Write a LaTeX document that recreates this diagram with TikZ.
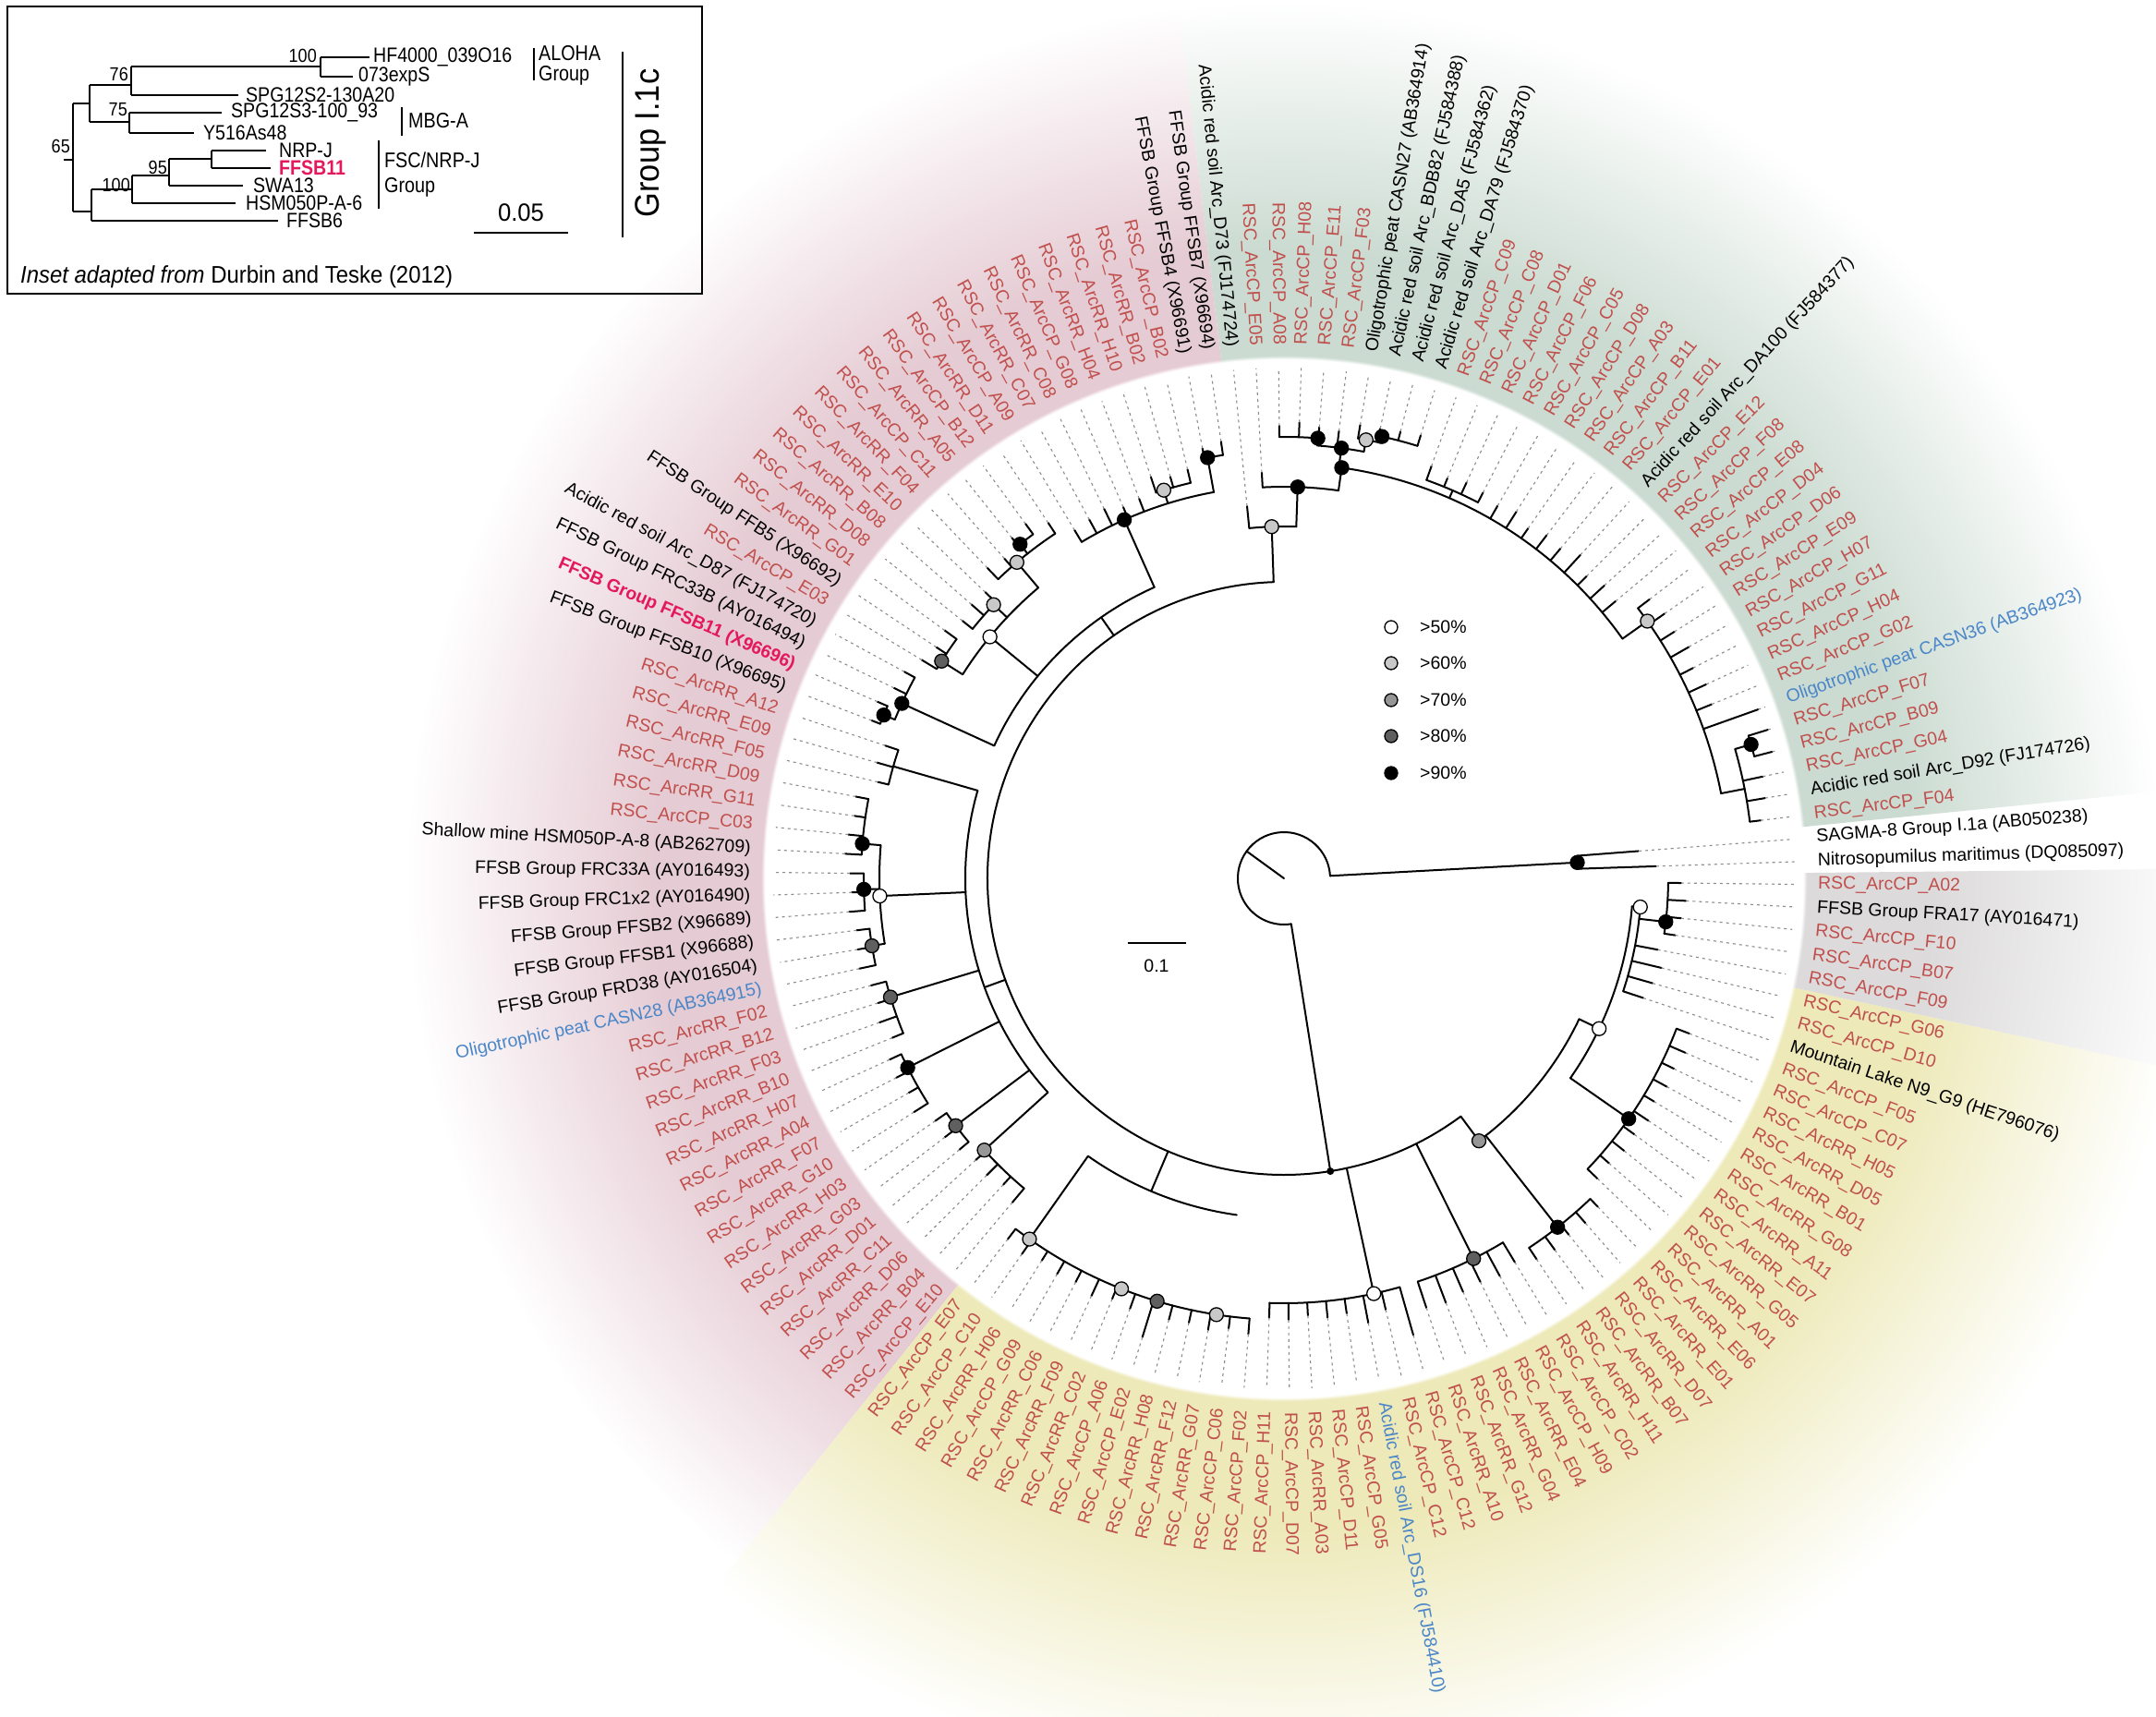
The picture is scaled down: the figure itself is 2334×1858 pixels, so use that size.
\documentclass[tikz,border=0pt]{standalone}
\usepackage{fontspec}
\setmainfont{Liberation Sans}
\definecolor{bandG}{RGB}{203,219,209}
\definecolor{bandP}{RGB}{229,203,211}
\definecolor{bandY}{RGB}{237,233,184}
\definecolor{bandK}{RGB}{220,218,218}
\definecolor{rscc}{RGB}{192,80,77}
\definecolor{bluc}{RGB}{74,134,200}
\definecolor{pnkc}{RGB}{228,24,92}
\definecolor{c60}{RGB}{200,200,200}
\definecolor{c70}{RGB}{150,150,150}
\definecolor{c80}{RGB}{95,95,95}
\pgfdeclareradialshading{shG}{\pgfpoint{0bp}{0bp}}{color(0bp)=(white);color(14.05bp)=(white);color(14.15bp)=(bandG);color(17bp)=(bandG);color(23.75bp)=(white);color(50bp)=(white)}
\pgfdeclareradialshading{shP}{\pgfpoint{0bp}{0bp}}{color(0bp)=(white);color(14.05bp)=(white);color(14.15bp)=(bandP);color(17bp)=(bandP);color(23.75bp)=(white);color(50bp)=(white)}
\pgfdeclareradialshading{shY}{\pgfpoint{0bp}{0bp}}{color(0bp)=(white);color(14.05bp)=(white);color(14.15bp)=(bandY);color(17.5bp)=(bandY);color(24.5bp)=(white);color(50bp)=(white)}
\pgfdeclareradialshading{shK}{\pgfpoint{0bp}{0bp}}{color(0bp)=(white);color(14.05bp)=(white);color(14.15bp)=(bandK);color(17.5bp)=(bandK);color(25bp)=(white);color(50bp)=(white)}
\newcommand\LA[1]{\fpeval{4.4+(#1-1)*2.53521}}
\newcommand\Ar[3]{\draw[br] ({#2}:#1) arc[start angle={#2},end angle={#3},radius=#1pt];}
\newcommand\Rd[3]{\draw[br] ({#1}:#2) -- ({#1}:#3);}
\newcommand\Lf[3]{\draw[br] ({\LA{#1}}:#2) -- ({\LA{#1}}:#3);\draw[dsh] ({\LA{#1}}:#3) -- ({\LA{#1}}:553);}
\newcommand\Dt[3]{\filldraw[fill=#3,draw=black,line width=1.3pt] ({#1}:#2) circle (7.5pt);}
\newcommand\CPl[1]{RSC\_ArcCP\_#1}
\newcommand\RRl[1]{RSC\_ArcRR\_#1}
\newcommand\Lab[3]{%
 \pgfmathsetmacro\myang{4.4+(#1-1)*2.53521}%
 \pgfmathtruncatemacro\mylft{and(\myang>90,\myang<270)}%
 \ifnum\mylft=1\relax
  \node[lbl,#2,anchor=east,rotate=\myang-180] (t#1) at (\myang:578) {#3};%
 \else
  \node[lbl,#2,anchor=west,rotate=\myang] (t#1) at (\myang:578) {#3};%
 \fi}
\begin{document}
\begin{tikzpicture}[x=1pt,y=1pt,
  br/.style={line width=2pt,line cap=round,line join=round},
  dsh/.style={line width=1.1pt,draw=black!45,dash pattern=on 3pt off 4pt},
  lbl/.style={font=\fontsize{19.5}{22}\selectfont,inner sep=0pt},
  rsc/.style={text=rscc},blk/.style={text=black},blu/.style={text=bluc},
  pnk/.style={text=pnkc,font=\fontsize{19.5}{22}\selectfont\bfseries},
  ins/.style={font=\fontsize{19.5}{22}\selectfont,inner sep=0pt},
  tx/.style={font=\fontsize{22.5}{25}\selectfont,inner sep=0pt,xscale=0.87},
  num/.style={font=\fontsize{20.5}{23}\selectfont,inner sep=0pt,xscale=0.88},
  grp/.style={font=\fontsize{23}{26}\selectfont,inner sep=0pt,xscale=0.86},
  ln/.style={line width=2pt}]
\useasboundingbox (-1390,-907) rectangle (944,951);
\fill[white] (-1390,-907) rectangle (944,951);
% coloured bands
\begin{scope}
 \clip (0,0) -- (5.67:1600) arc[start angle=5.67,end angle=96.9,radius=1600pt] -- cycle;
 \shade[shading=shG] (0,0) circle (1000pt);
\end{scope}
\begin{scope}
 \clip (0,0) -- (96.9:1600) arc[start angle=96.9,end angle=231.3,radius=1600pt] -- cycle;
 \shade[shading=shP] (0,0) circle (1000pt);
\end{scope}
\begin{scope}
 \clip (0,0) -- (231.3:1600) arc[start angle=231.3,end angle=347.9,radius=1600pt] -- cycle;
 \shade[shading=shY] (0,0) circle (1000pt);
\end{scope}
\begin{scope}
 \clip (0,0) -- (347.9:1600) arc[start angle=347.9,end angle=360.6,radius=1600pt] -- cycle;
 \shade[shading=shK] (0,0) circle (1000pt);
\end{scope}
% ---------- tree ----------
\Ar{50}{3.1}{279}
\draw[br] (0,0) -- (144:50);
\Rd{3.1}{50}{318}\Ar{318}{1.87}{4.4}\Lf{142}{318}{403}\Lf{1}{318}{385}
\Rd{279}{50}{321}\Ar{321}{92}{306.6}
% green
\Rd{92}{321}{381}\Ar{381}{88}{\LA{37}}\Lf{37}{381}{405}
\Rd{88}{381}{424}\Ar{424}{82}{\LA{36}}\Lf{36}{424}{440}
\Rd{82}{424}{449}\Ar{449}{35.3}{82.4}
\Rd{82.4}{449}{470}\Ar{470}{79.4}{85.6}\Lf{32}{470}{488}
\Rd{85.6}{470}{478}\Ar{478}{\LA{33}}{\LA{35}}\Lf{33}{478}{490}\Lf{34}{478}{494}\Lf{35}{478}{490}
\Rd{79.4}{470}{483}\Ar{483}{77.5}{\LA{31}}\Lf{31}{483}{498}
\Rd{77.5}{483}{490}\Ar{490}{\LA{28}}{\LA{30}}\Lf{28}{490}{502}\Lf{29}{490}{500}\Lf{30}{490}{498}
\Rd{66.5}{449}{458}\Ar{458}{\LA{24}}{\LA{27}}\Lf{24}{458}{470}\Lf{25}{458}{472}\Lf{26}{458}{468}\Lf{27}{458}{474}
\Lf{23}{449}{465}\Lf{22}{449}{470}\Lf{21}{449}{462}\Lf{20}{449}{468}\Lf{19}{449}{466}\Lf{18}{449}{475}\Lf{17}{449}{463}\Lf{16}{449}{470}\Lf{15}{449}{468}
\Rd{35.3}{449}{482}\Ar{482}{11}{\LA{14}}
\Lf{14}{482}{498}\Lf{13}{482}{502}\Lf{12}{482}{500}\Lf{11}{482}{505}\Lf{10}{482}{498}\Lf{9}{482}{503}\Lf{8}{482}{500}\Lf{7}{482}{545}
\Rd{11}{482}{508}\Ar{508}{\LA{2}}{16}
\Rd{16}{508}{526}\Ar{526}{\LA{5}}{\LA{6}}\Lf{5}{526}{546}\Lf{6}{526}{548}
\Lf{4}{508}{530}\Lf{3}{508}{528}\Lf{2}{508}{520}
% pink top
\Rd{125}{321}{345}\Ar{345}{114}{155.4}
\Rd{114}{345}{425}\Ar{425}{100.3}{\LA{47}}
\Rd{100.3}{425}{463}\Ar{463}{\LA{38}}{\LA{39}}\Lf{38}{463}{478}\Lf{39}{463}{474}
\Rd{107.2}{425}{440}\Ar{440}{\LA{40}}{\LA{42}}\Lf{40}{440}{455}\Lf{41}{440}{452}\Lf{42}{440}{458}
\Lf{43}{425}{440}\Lf{44}{425}{438}\Lf{45}{425}{445}\Lf{46}{425}{442}\Lf{47}{425}{440}
\Rd{140.6}{345}{412}\Ar{412}{130.2}{147.6}
\Rd{130.2}{412}{448}\Ar{448}{\LA{48}}{\LA{52}}\Lf{48}{448}{462}
\Rd{128.3}{448}{461}\Ar{461}{\LA{49}}{\LA{50}}\Lf{49}{461}{475}\Lf{50}{461}{472}
\Lf{51}{448}{460}\Lf{52}{448}{465}
\Rd{136.7}{412}{432}\Ar{432}{\LA{53}}{\LA{55}}\Lf{53}{432}{448}\Lf{54}{432}{450}\Lf{55}{432}{446}
\Rd{147.6}{412}{439}\Ar{439}{\LA{56}}{\LA{58}}\Lf{56}{439}{455}\Lf{57}{439}{452}\Lf{58}{439}{458}
\Rd{155.4}{345}{455}\Ar{455}{\LA{59}}{157.8}\Lf{59}{455}{468}\Lf{60}{455}{470}
\Rd{157.8}{455}{468}\Ar{468}{\LA{61}}{\LA{62}}\Lf{61}{468}{480}\Lf{62}{468}{478}
% pink left
\Rd{200}{321}{345}\Ar{345}{164}{222.2}
\Rd{164}{345}{440}\Ar{440}{\LA{63}}{\LA{65}}\Lf{63}{440}{455}\Lf{64}{440}{458}\Lf{65}{440}{452}
\Rd{182.5}{345}{438}\Ar{438}{175.3}{189.3}
\Rd{175.3}{438}{458}\Ar{458}{\LA{66}}{\LA{69}}\Lf{66}{458}{472}\Lf{67}{458}{470}\Lf{68}{458}{474}\Lf{69}{458}{476}
\Rd{181.5}{438}{455}\Ar{455}{\LA{70}}{\LA{72}}\Lf{70}{455}{470}\Lf{71}{455}{468}\Lf{72}{455}{472}
\Rd{189.3}{438}{452}\Ar{452}{\LA{73}}{\LA{75}}\Lf{73}{452}{466}\Lf{74}{452}{468}\Lf{75}{452}{470}
\Rd{196.8}{345}{445}\Ar{445}{\LA{76}}{\LA{79}}\Lf{76}{445}{462}\Lf{77}{445}{460}\Lf{78}{445}{465}\Lf{79}{445}{458}
\Rd{206.7}{345}{456}\Ar{456}{\LA{80}}{\LA{83}}\Lf{80}{456}{470}\Lf{81}{456}{472}\Lf{82}{456}{468}\Lf{83}{456}{474}
\Rd{217}{345}{445}\Ar{445}{\LA{84}}{\LA{86}}\Lf{84}{445}{460}\Lf{85}{445}{462}\Lf{86}{445}{458}
\Rd{222.2}{345}{438}\Ar{438}{222.2}{\LA{90}}\Lf{87}{438}{452}\Lf{88}{438}{455}\Lf{89}{438}{450}\Lf{90}{438}{458}
% bottom
\Rd{247}{321}{368}\Ar{368}{234.8}{262}
\Rd{234.8}{368}{478}\Ar{478}{\LA{91}}{\LA{104}}
\Lf{91}{478}{492}\Lf{92}{478}{496}\Lf{93}{478}{490}\Lf{94}{478}{494}\Lf{95}{478}{492}\Lf{96}{478}{498}\Lf{97}{478}{492}
\Lf{98}{478}{495}\Lf{99}{478}{520}\Lf{100}{478}{494}\Lf{101}{478}{492}\Lf{102}{478}{496}\Lf{103}{478}{491}\Lf{104}{478}{495}
\Rd{282.2}{321}{460}\Ar{460}{\LA{105}}{\LA{112}}
\Lf{105}{460}{476}\Lf{106}{460}{478}\Lf{107}{460}{474}\Lf{108}{460}{478}\Lf{109}{460}{476}\Lf{110}{460}{490}\Lf{111}{460}{480}\Lf{112}{460}{514}
\Rd{296.5}{321}{460}\Ar{460}{\LA{113}}{\LA{118}}
\Lf{113}{460}{490}\Lf{114}{460}{492}\Lf{115}{460}{488}\Lf{116}{460}{486}\Lf{117}{460}{490}\Lf{118}{460}{485}
\Rd{306.6}{321}{354}\Ar{354}{306.6}{334.5}
\Rd{308.1}{354}{480}\Ar{480}{\LA{119}}{\LA{123}}
\Lf{119}{480}{495}\Lf{120}{480}{498}\Lf{121}{480}{494}\Lf{122}{480}{496}\Lf{123}{480}{492}
\Rd{334.5}{354}{378}\Ar{378}{325.1}{355.4}
\Rd{325.1}{378}{455}\Ar{455}{\LA{124}}{\LA{133}}
\Lf{124}{455}{470}\Lf{125}{455}{468}\Lf{126}{455}{472}\Lf{127}{455}{470}\Lf{128}{455}{474}\Lf{129}{455}{468}\Lf{130}{455}{472}\Lf{131}{455}{470}\Lf{132}{455}{474}\Lf{133}{455}{470}
\Rd{355.4}{378}{387}\Ar{387}{\LA{134}}{355.4}
\Lf{134}{387}{410}\Lf{135}{387}{415}\Lf{136}{387}{420}\Lf{137}{387}{412}
\Rd{353.5}{387}{416}\Ar{416}{\LA{138}}{\LA{141}}\Lf{138}{416}{428}\Lf{139}{416}{432}\Lf{140}{416}{436}\Lf{141}{416}{430}
% bootstrap dots
\fill (279:321) circle (4pt);
\Dt{3.1}{318}{black}
\Dt{92}{381}{c60}\Dt{88}{424}{black}\Dt{82}{449}{black}\Dt{85.6}{478}{black}\Dt{82.4}{470}{black}
\Dt{79.4}{483}{c60}\Dt{77.5}{490}{black}\Dt{35.3}{482}{c60}\Dt{16}{526}{black}
\Dt{114}{425}{black}\Dt{100.3}{463}{black}\Dt{107.2}{440}{c60}\Dt{140.6}{412}{white}\Dt{130.2}{448}{c60}
\Dt{128.3}{461}{black}\Dt{136.7}{432}{c60}\Dt{147.6}{439}{c80}\Dt{155.4}{455}{black}\Dt{157.8}{468}{black}
\Dt{182.5}{438}{white}\Dt{175.3}{458}{black}\Dt{181.5}{455}{black}\Dt{189.3}{452}{c80}\Dt{196.8}{445}{c80}
\Dt{206.7}{456}{black}\Dt{217}{445}{c80}\Dt{222.2}{438}{c70}
\Dt{234.8}{478}{c60}\Dt{248.4}{478}{c60}\Dt{253.3}{478}{c80}\Dt{261.2}{478}{c60}
\Dt{282.2}{460}{white}\Dt{296.5}{460}{c80}\Dt{306.6}{354}{c70}\Dt{308.1}{480}{black}\Dt{334.5}{378}{white}
\Dt{325.1}{455}{black}\Dt{355.4}{387}{white}\Dt{353.5}{416}{black}
% ---------- labels ----------
\Lab{1}{blk}{SAGMA-8 Group I.1a (AB050238)}
\Lab{2}{rsc}{\CPl{F04}}
\Lab{3}{blk}{Acidic red soil Arc\_D92 (FJ174726)}
\Lab{4}{rsc}{\CPl{G04}}
\Lab{5}{rsc}{\CPl{B09}}
\Lab{6}{rsc}{\CPl{F07}}
\Lab{7}{blu}{Oligotrophic peat CASN36 (AB364923)}
\Lab{8}{rsc}{\CPl{G02}}
\Lab{9}{rsc}{\CPl{H04}}
\Lab{10}{rsc}{\CPl{G11}}
\Lab{11}{rsc}{\CPl{H07}}
\Lab{12}{rsc}{\CPl{E09}}
\Lab{13}{rsc}{\CPl{D06}}
\Lab{14}{rsc}{\CPl{D04}}
\Lab{15}{rsc}{\CPl{E08}}
\Lab{16}{rsc}{\CPl{F08}}
\Lab{17}{rsc}{\CPl{E12}}
\Lab{18}{blk}{Acidic red soil Arc\_DA100 (FJ584377)}
\Lab{19}{rsc}{\CPl{E01}}
\Lab{20}{rsc}{\CPl{B11}}
\Lab{21}{rsc}{\CPl{A03}}
\Lab{22}{rsc}{\CPl{D08}}
\Lab{23}{rsc}{\CPl{C05}}
\Lab{24}{rsc}{\CPl{F06}}
\Lab{25}{rsc}{\CPl{D01}}
\Lab{26}{rsc}{\CPl{C08}}
\Lab{27}{rsc}{\CPl{C09}}
\Lab{28}{blk}{Acidic red soil Arc\_DA79 (FJ584370)}
\Lab{29}{blk}{Acidic red soil Arc\_DA5 (FJ584362)}
\Lab{30}{blk}{Acidic red soil Arc\_BDB82 (FJ584388)}
\Lab{31}{blk}{Oligotrophic peat CASN27 (AB364914)}
\Lab{32}{rsc}{\CPl{F03}}
\Lab{33}{rsc}{\CPl{E11}}
\Lab{34}{rsc}{\CPl{H08}}
\Lab{35}{rsc}{\CPl{A08}}
\Lab{36}{rsc}{\CPl{E05}}
\Lab{37}{blk}{Acidic red soil Arc\_D73 (FJ174724)}
\Lab{38}{blk}{FFSB Group FFSB7 (X96694)}
\Lab{39}{blk}{FFSB Group FFSB4 (X96691)}
\Lab{40}{rsc}{\CPl{B02}}
\Lab{41}{rsc}{\RRl{B02}}
\Lab{42}{rsc}{\RRl{H10}}
\Lab{43}{rsc}{\RRl{H04}}
\Lab{44}{rsc}{\CPl{G08}}
\Lab{45}{rsc}{\RRl{C08}}
\Lab{46}{rsc}{\RRl{C07}}
\Lab{47}{rsc}{\CPl{A09}}
\Lab{48}{rsc}{\RRl{D11}}
\Lab{49}{rsc}{\CPl{B12}}
\Lab{50}{rsc}{\RRl{A05}}
\Lab{51}{rsc}{\CPl{C11}}
\Lab{52}{rsc}{\RRl{F04}}
\Lab{53}{rsc}{\RRl{E10}}
\Lab{54}{rsc}{\RRl{B08}}
\Lab{55}{rsc}{\RRl{D08}}
\Lab{56}{rsc}{\RRl{G01}}
\Lab{57}{blk}{FFSB Group FFB5 (X96692)}
\Lab{58}{rsc}{\CPl{E03}}
\Lab{59}{blk}{Acidic red soil Arc\_D87 (FJ174720)}
\Lab{60}{blk}{FFSB Group FRC33B (AY016494)}
\Lab{61}{pnk}{FFSB Group FFSB11 (X96696)}
\Lab{62}{blk}{FFSB Group FFSB10 (X96695)}
\Lab{63}{rsc}{\RRl{A12}}
\Lab{64}{rsc}{\RRl{E09}}
\Lab{65}{rsc}{\RRl{F05}}
\Lab{66}{rsc}{\RRl{D09}}
\Lab{67}{rsc}{\RRl{G11}}
\Lab{68}{rsc}{\CPl{C03}}
\Lab{69}{blk}{Shallow mine HSM050P-A-8 (AB262709)}
\Lab{70}{blk}{FFSB Group FRC33A (AY016493)}
\Lab{71}{blk}{FFSB Group FRC1x2 (AY016490)}
\Lab{72}{blk}{FFSB Group FFSB2 (X96689)}
\Lab{73}{blk}{FFSB Group FFSB1 (X96688)}
\Lab{74}{blk}{FFSB Group FRD38 (AY016504)}
\Lab{75}{blu}{Oligotrophic peat CASN28 (AB364915)}
\Lab{76}{rsc}{\RRl{F02}}
\Lab{77}{rsc}{\RRl{B12}}
\Lab{78}{rsc}{\RRl{F03}}
\Lab{79}{rsc}{\RRl{B10}}
\Lab{80}{rsc}{\RRl{H07}}
\Lab{81}{rsc}{\RRl{A04}}
\Lab{82}{rsc}{\RRl{F07}}
\Lab{83}{rsc}{\RRl{G10}}
\Lab{84}{rsc}{\RRl{H03}}
\Lab{85}{rsc}{\RRl{G03}}
\Lab{86}{rsc}{\RRl{D01}}
\Lab{87}{rsc}{\RRl{C11}}
\Lab{88}{rsc}{\RRl{D06}}
\Lab{89}{rsc}{\RRl{B04}}
\Lab{90}{rsc}{\CPl{E10}}
\Lab{91}{rsc}{\CPl{E07}}
\Lab{92}{rsc}{\CPl{C10}}
\Lab{93}{rsc}{\RRl{H06}}
\Lab{94}{rsc}{\CPl{G09}}
\Lab{95}{rsc}{\RRl{C06}}
\Lab{96}{rsc}{\RRl{F09}}
\Lab{97}{rsc}{\RRl{C02}}
\Lab{98}{rsc}{\CPl{A06}}
\Lab{99}{rsc}{\CPl{E02}}
\Lab{100}{rsc}{\RRl{H08}}
\Lab{101}{rsc}{\RRl{F12}}
\Lab{102}{rsc}{\RRl{G07}}
\Lab{103}{rsc}{\CPl{C06}}
\Lab{104}{rsc}{\CPl{F02}}
\Lab{105}{rsc}{\CPl{H11}}
\Lab{106}{rsc}{\CPl{D07}}
\Lab{107}{rsc}{\RRl{A03}}
\Lab{108}{rsc}{\CPl{D11}}
\Lab{109}{rsc}{\CPl{G05}}
\Lab{110}{blu}{Acidic red soil Arc\_DS16 (FJ584410)}
\Lab{111}{rsc}{\CPl{C12}}
\Lab{112}{rsc}{\CPl{C12}}
\Lab{113}{rsc}{\RRl{A10}}
\Lab{114}{rsc}{\RRl{G12}}
\Lab{115}{rsc}{\RRl{G04}}
\Lab{116}{rsc}{\RRl{E04}}
\Lab{117}{rsc}{\CPl{H09}}
\Lab{118}{rsc}{\CPl{C02}}
\Lab{119}{rsc}{\RRl{H11}}
\Lab{120}{rsc}{\RRl{B07}}
\Lab{121}{rsc}{\RRl{D07}}
\Lab{122}{rsc}{\RRl{E01}}
\Lab{123}{rsc}{\RRl{E06}}
\Lab{124}{rsc}{\RRl{A01}}
\Lab{125}{rsc}{\RRl{G05}}
\Lab{126}{rsc}{\RRl{E07}}
\Lab{127}{rsc}{\RRl{A11}}
\Lab{128}{rsc}{\RRl{G08}}
\Lab{129}{rsc}{\RRl{B01}}
\Lab{130}{rsc}{\RRl{D05}}
\Lab{131}{rsc}{\RRl{H05}}
\Lab{132}{rsc}{\CPl{C07}}
\Lab{133}{rsc}{\CPl{F05}}
\Lab{134}{blk}{Mountain Lake N9\_G9 (HE796076)}
\Lab{135}{rsc}{\CPl{D10}}
\Lab{136}{rsc}{\CPl{G06}}
\Lab{137}{rsc}{\CPl{F09}}
\Lab{138}{rsc}{\CPl{B07}}
\Lab{139}{rsc}{\CPl{F10}}
\Lab{140}{blk}{FFSB Group FRA17 (AY016471)}
\Lab{141}{rsc}{\CPl{A02}}
\Lab{142}{blk}{Nitrosopumilus maritimus (DQ085097)}
% ---------- image-coordinate items ----------
\begin{scope}[shift={(-1390,951)},yscale=-1]
 % legend
 \filldraw[fill=white,draw=black,line width=1.3pt] (1506,679) circle (7pt);
 \filldraw[fill=c60,draw=black,line width=1.3pt] (1506,718) circle (7pt);
 \filldraw[fill=c70,draw=black,line width=1.3pt] (1506,758) circle (7pt);
 \filldraw[fill=c80,draw=black,line width=1.3pt] (1506,797) circle (7pt);
 \filldraw[fill=black,draw=black,line width=1.3pt] (1506,837) circle (7pt);
 \node[ins,anchor=west] (g1) at (1537,679) {>50\%};
 \node[ins,anchor=west] (g2) at (1537,718) {>60\%};
 \node[ins,anchor=west] (g3) at (1537,758) {>70\%};
 \node[ins,anchor=west] (g4) at (1537,797) {>80\%};
 \node[ins,anchor=west] (g5) at (1537,837) {>90\%};
 % scale bar
 \draw[ln] (1221,1021) -- (1284,1021);
 \node[ins] (sb) at (1252,1046) {0.1};
 % inset
 \draw[line width=2pt] (8,7) rectangle (760,318);
 \draw[ln] (69,173) -- (79,173) (79,112) -- (79,229);
 \draw[ln] (79,112) -- (97,112) (97,92) -- (97,132);
 \draw[ln] (97,92) -- (142,92) (142,72) -- (142,103);
 \draw[ln] (142,72) -- (347,72) (347,62) -- (347,83);
 \draw[ln] (347,62) -- (400,62) (347,83) -- (382,83);
 \draw[ln] (142,103) -- (258,103);
 \draw[ln] (97,132) -- (140,132) (140,122) -- (140,144);
 \draw[ln] (140,122) -- (240,122) (140,144) -- (210,144);
 \draw[ln] (79,229) -- (99,229) (99,205) -- (99,239);
 \draw[ln] (99,205) -- (143,205) (143,190) -- (143,220);
 \draw[ln] (143,190) -- (183,190) (183,172) -- (183,201);
 \draw[ln] (183,172) -- (229,172) (229,163) -- (229,182);
 \draw[ln] (229,163) -- (288,163) (229,182) -- (293,182);
 \draw[ln] (183,201) -- (263,201);
 \draw[ln] (143,220) -- (255,220);
 \draw[ln] (99,239) -- (301,239);
 \node[num,anchor=east] (b1) at (343,60) {100};
 \node[num,anchor=east] (b2) at (139,80) {76};
 \node[num,anchor=east] (b3) at (138,119) {75};
 \node[num,anchor=east] (b4) at (76,158) {65};
 \node[num,anchor=east] (b5) at (181,181) {95};
 \node[num,anchor=east] (b6) at (141,200) {100};
 \node[tx,anchor=west] (i1) at (404,62) {HF4000\_039O16};
 \node[tx,anchor=west] (i2) at (388,83) {073expS};
 \node[tx,anchor=west] (i3) at (266,103) {SPG12S2-130A20};
 \node[tx,anchor=west] (i4) at (250,122) {SPG12S3-100\_93};
 \node[tx,anchor=west] (i5) at (220,144) {Y516As48};
 \node[tx,anchor=west] (i6) at (302,163) {NRP-J};
 \node[tx,anchor=west,text=pnkc,font=\fontsize{22.5}{25}\selectfont\bfseries] (i7) at (302,182) {FFSB11};
 \node[tx,anchor=west] (i8) at (274,201) {SWA13};
 \node[tx,anchor=west] (i9) at (266,220) {HSM050P-A-6};
 \node[tx,anchor=west] (i10) at (310,239) {FFSB6};
 \draw[ln] (578,52) -- (578,87);
 \node[grp,anchor=west] (a1) at (583,58) {ALOHA};
 \node[grp,anchor=west] (a2) at (583,82) {Group};
 \draw[ln] (435,116) -- (435,147);
 \node[grp,anchor=west] (a3) at (442,131) {MBG-A};
 \draw[ln] (410,152) -- (410,226);
 \node[grp,anchor=west] (a4) at (416,173) {FSC/NRP-J};
 \node[grp,anchor=west] (a5) at (416,203) {Group};
 \draw[ln] (674,56) -- (674,257);
 \node[inner sep=0pt,rotate=90,xscale=0.93,font=\fontsize{37}{40}\selectfont] (a6) at (704,155) {Group I.1c};
 \draw[ln] (513,252) -- (615,252);
 \node[inner sep=0pt,xscale=0.95,font=\fontsize{27}{30}\selectfont] (a7) at (564,230) {0.05};
 \node[inner sep=0pt,anchor=west,xscale=0.92,font=\fontsize{26}{29}\selectfont] (cap) at (22,300) {\textit{Inset adapted from} Durbin and Teske (2012)};
\end{scope}
\end{tikzpicture}
\end{document}
